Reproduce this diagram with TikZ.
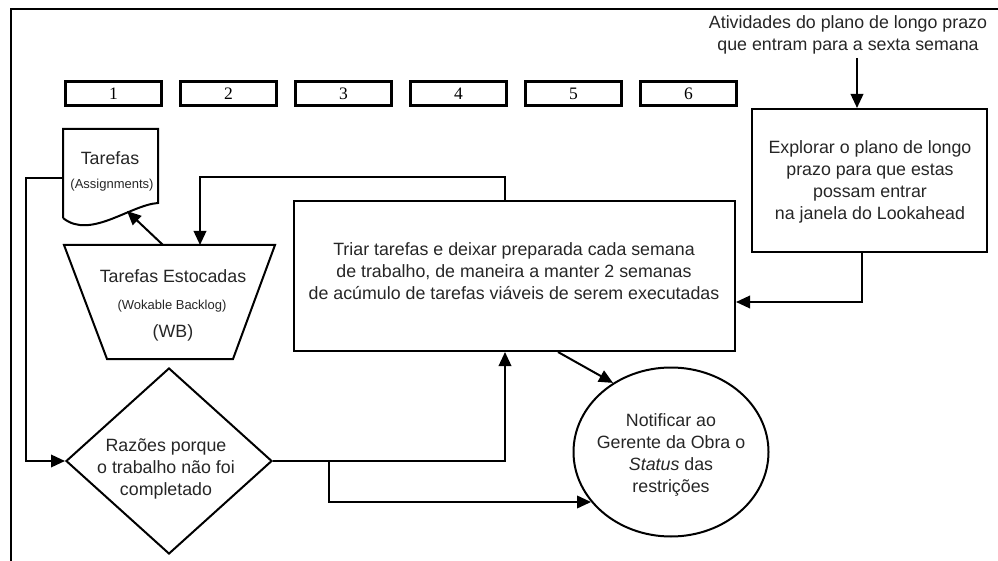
\documentclass[tikz,border=0pt]{standalone}
\usepackage{fontspec}
\setmainfont{Liberation Sans}
\newfontfamily\numfont{Liberation Serif}
\usetikzlibrary{arrows.meta,shapes.geometric}

\begin{document}
\begin{tikzpicture}[x=1pt,y=-1pt,
  lbl/.style={align=center, inner sep=0pt, text=black!85, font=\fontsize{17.8}{22}\selectfont},
  sm/.style={inner sep=0pt, text=black!85, font=\fontsize{13}{15}\selectfont},
  wk/.style={draw, line width=2.8pt, minimum width=96.2pt, minimum height=24.2pt, inner sep=0pt,
             font=\numfont\fontsize{17.5}{20}\selectfont},
  box/.style={draw, line width=2pt, inner sep=0pt},
  ln/.style={line width=2pt},
  arr/.style={ln, -{Triangle[length=14pt,width=12.5pt]}},
]
\useasboundingbox (0,0) rectangle (998,561);

% outer frame (top and left edges)
\draw[line width=1.8pt] (11,561) -- (11,9) -- (998,9);

% the six weeks
\foreach \i in {1,...,6}
  \node[wk] (w\i) at ({113.5+115*(\i-1)},93.5) {\i};

% incoming long-term activities
\node[lbl] (ativ) at (848,34.5) {Atividades do plano de longo prazo\\que entram para a sexta semana};
\coordinate (ain) at (857,58);

% explore the long-term plan
\node[box, minimum width=235pt, minimum height=143pt] (exp) at (869.5,180.5) {};
\node[lbl] (expt) at (870,181.5) {Explorar o plano de longo\\prazo para que estas\\possam entrar\\na janela do Lookahead};

% sort tasks
\node[box, minimum width=441pt, minimum height=150pt] (triar) at (514.5,276) {};
\node[lbl] (triart) at (514,271) {Triar tarefas e deixar preparada cada semana\\de trabalho, de maneira a manter 2 semanas\\de acúmulo de tarefas viáveis de serem executadas};

% assignments (document shape)
\draw[ln] (63,218) -- (63,129) -- (158,129) -- (158,203)
  .. controls (130,205) and (90,240) .. (63,218);
\node[lbl] (tart) at (110,158) {Tarefas};
\node[sm] (tars) at (112,185) {(Assignments)};
\coordinate (tleft) at (63,178);
\coordinate (tin) at (127,211);

% workable backlog (trapezoid)
\draw[ln] (64,245) -- (275,245) -- (233,359) -- (107,359) -- cycle;
\node[lbl] (wbt) at (173,276) {Tarefas Estocadas};
\node[sm] (wbs) at (172,306) {(Wokable Backlog)};
\node[lbl] (wbb) at (173,333) {(WB)};
\coordinate (wbin) at (200,245);
\coordinate (wbout) at (163,245);

% reasons for incomplete work
\node[diamond, draw, ln, minimum width=206pt, minimum height=186pt, inner sep=0pt] (dia) at (169,461) {};
\node[lbl] (diat) at (166,469) {Razões porque\\o trabalho não foi\\completado};

% notify the site manager
\node[ellipse, draw, ln, minimum width=195pt, minimum height=169pt, inner sep=0pt] (ell) at (671,452) {};
\node[lbl] (ellt) at (671,455) {Notificar ao\\Gerente da Obra o\\\textit{Status} das\\restrições};

% connectors
\draw[arr] (ain) -- (ain |- exp.north);
\draw[arr] ([xshift=-7.5pt]exp.south) |- ([yshift=-26pt]triar.east);
\draw[arr] ([xshift=-9.5pt]triar.north) -- ++(0,-23) -| (wbin);
\draw[arr] (wbout) -- (tin);
\draw[arr] (tleft) -- ++(-37,0) |- (dia.west);
\draw[arr] (dia.east) -| ([xshift=-9.5pt]triar.south);
\coordinate (br) at (329,461);
\coordinate (br2) at (329,502);
\draw[arr] (br) -- (br2) -- (br2 -| ell.212);
\draw[arr] ([xshift=43.5pt]triar.south) -- (ell.130);
\end{tikzpicture}
\end{document}
